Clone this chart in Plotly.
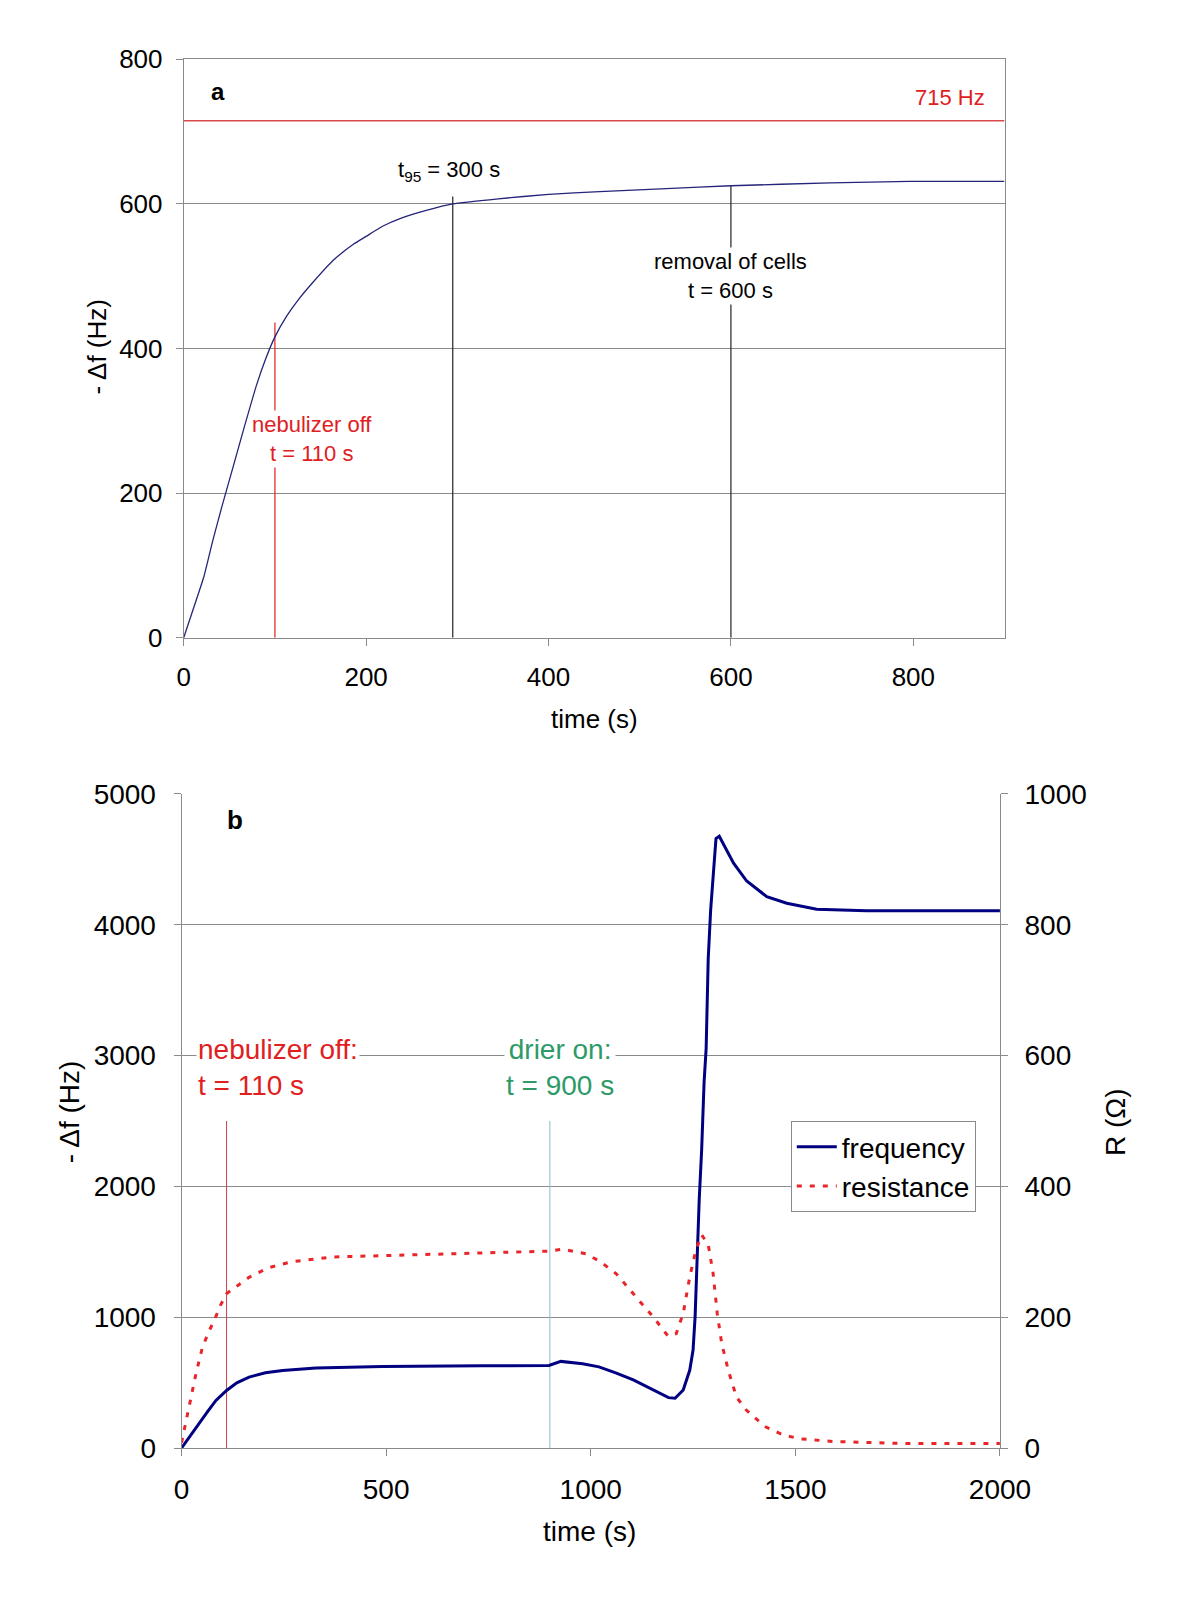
import plotly.graph_objects as go

# ---------------- data: panel a ----------------
top_time = [0, 10, 22, 32, 42, 55, 67, 80, 90, 100, 113, 126, 142, 164, 186, 200, 218, 240, 266, 295, 345, 400, 456, 529, 600, 709, 796, 900]
top_df = [0, 38, 84, 135, 182, 240, 294, 350, 386, 416, 445, 468, 492, 522, 544, 555, 569, 581, 591, 600, 607, 613, 617, 621, 625, 629, 631, 631]
top_ref_level = 715
top_neb_t = 100
top_neb_top = 436
top_t95_t = 295
top_t95_top = 610
top_removal_t = 600
top_removal_top = 625

# ---------------- data: panel b ----------------
freq_time = [0, 20, 43, 64, 84, 110, 135, 165, 205, 247, 328, 491, 735, 898, 927, 980, 1020, 1061, 1104, 1145, 1175, 1190, 1206,
             1226, 1242, 1250, 1255, 1260, 1265, 1271, 1277, 1282, 1287, 1293, 1300, 1306, 1314, 1320, 1328, 1349, 1381,
             1430, 1479, 1552, 1674, 2000]
freq_df = [0, 90, 186, 280, 364, 440, 498, 542, 575, 593, 611, 623, 628, 631, 662, 644, 620, 575, 520, 458, 410, 385, 380,
           443, 596, 749, 1004, 1514, 1896, 2278, 2800, 3055, 3737, 4113, 4420, 4659, 4676, 4640, 4590, 4471, 4334,
           4215, 4164, 4119, 4106, 4106]

res_time = [0, 6, 19, 35, 51, 68, 80, 95, 110, 133, 165, 214, 271, 369, 532, 735, 898, 931, 988, 1023,
            1063, 1120, 1152, 1189, 1209, 1226, 1242, 1257, 1271, 1287, 1299, 1309, 1320, 1336,
            1356, 1380, 1425, 1470, 1511, 1593, 1756, 2000]
res_ohm = [8, 27, 63, 113, 154, 180, 195, 218, 236, 247, 261, 276, 285, 292, 295, 299, 301, 304, 297, 285,
           266, 224, 201, 171, 175, 206, 262, 303, 326, 311, 267, 206, 160, 119,
           78, 58, 33, 20, 14, 10, 7, 7]

bot_neb_t = 110
bot_drier_t = 900
bot_marker_top = 2500

FONT = "Liberation Sans, Arial, sans-serif"
GRID = "#8a8a8a"
RED = "#e0201e"
NAVY = "#000080"

# page offset compensation (body margin of the html page)
DX = 8 / 1200
DY = 8 / 1600

fig = go.Figure()

# panel a traces
fig.add_trace(go.Scatter(x=[0, 900], y=[top_ref_level, top_ref_level], mode="lines",
                         line=dict(color="#d9484a", width=1.5), xaxis="x", yaxis="y", showlegend=False))
fig.add_trace(go.Scatter(x=[top_neb_t, top_neb_t], y=[0, top_neb_top], mode="lines",
                         line=dict(color=RED, width=1.2), xaxis="x", yaxis="y", showlegend=False))
fig.add_trace(go.Scatter(x=[top_t95_t, top_t95_t], y=[0, top_t95_top], mode="lines",
                         line=dict(color="#222222", width=1.2), xaxis="x", yaxis="y", showlegend=False))
fig.add_trace(go.Scatter(x=[top_removal_t, top_removal_t], y=[0, top_removal_top], mode="lines",
                         line=dict(color="#222222", width=1.2), xaxis="x", yaxis="y", showlegend=False))
fig.add_trace(go.Scatter(x=top_time, y=top_df, mode="lines", line=dict(color="#24247a", width=1.3, shape="spline", smoothing=0.5),
                         xaxis="x", yaxis="y", showlegend=False))

# panel b traces
fig.add_trace(go.Scatter(x=[bot_neb_t, bot_neb_t], y=[0, bot_marker_top], mode="lines",
                         line=dict(color="#c84040", width=1), xaxis="x2", yaxis="y2", showlegend=False))
fig.add_trace(go.Scatter(x=[bot_drier_t, bot_drier_t], y=[0, bot_marker_top], mode="lines",
                         line=dict(color="#8fbccb", width=1), xaxis="x2", yaxis="y2", showlegend=False))
fig.add_trace(go.Scatter(x=freq_time, y=freq_df, mode="lines", name="frequency",
                         line=dict(color=NAVY, width=3), xaxis="x2", yaxis="y2"))
fig.add_trace(go.Scatter(x=res_time, y=res_ohm, mode="lines", name="resistance",
                         line=dict(color="#e8262a", width=3, dash="5px,8px"), xaxis="x2", yaxis="y3"))

axis_common = dict(showline=True, linecolor=GRID, linewidth=1, ticks="outside", tickcolor=GRID,
                   ticklen=7, zeroline=False, color="black", automargin=False)

fig.update_layout(
    width=1200, height=1600,
    margin=dict(l=0, r=0, t=0, b=0, autoexpand=False),
    paper_bgcolor="white", plot_bgcolor="white",
    font=dict(family=FONT, color="black"),
    xaxis=dict(domain=[0.1531 - DX, 0.8371 - DX], anchor="y", range=[0, 900], tickvals=[0, 200, 400, 600, 800],
               showgrid=False, mirror=True, tickfont=dict(size=26), ticklabelstandoff=9, **axis_common),
    yaxis=dict(domain=[0.6014 + DY, 0.963 + DY], anchor="x", range=[0, 800], dtick=200,
               showgrid=True, gridcolor=GRID, gridwidth=1, mirror=True, tickfont=dict(size=26),
               ticklabelstandoff=8, **axis_common),
    xaxis2=dict(domain=[0.1513 - DX, 0.8333 - DX], anchor="y2", range=[0, 2000], dtick=500,
                showgrid=False, tickfont=dict(size=28), ticklabelstandoff=9, **axis_common),
    yaxis2=dict(domain=[0.095 + DY, 0.5038 + DY], anchor="x2", range=[0, 5000], dtick=1000,
                showgrid=True, gridcolor=GRID, gridwidth=1, tickfont=dict(size=28),
                ticklabelstandoff=12, **axis_common),
    yaxis3=dict(overlaying="y2", side="right", anchor="x2", range=[0, 1000], dtick=200,
                showgrid=False, tickfont=dict(size=28), ticklabelstandoff=11, **axis_common),
    legend=dict(x=0.659 - DX, y=0.2994 + DY, xanchor="left", yanchor="top", bgcolor="white",
                bordercolor=GRID, borderwidth=1, font=dict(size=28, family=FONT),
                tracegroupgap=0, itemwidth=40),
    showlegend=True,
)

ann = []
# panel a annotations
ann.append(dict(x=38, y=755, xref="x", yref="y", text="<b>a</b>", showarrow=False,
                font=dict(size=24, color="black")))
ann.append(dict(x=881, y=747, xref="x", yref="y", text="715 Hz", showarrow=False, xanchor="right",
                font=dict(size=22, color=RED)))
ann.append(dict(x=291, y=646, xref="x", yref="y", text="t<sub>95</sub> = 300 s", showarrow=False,
                font=dict(size=22, color="black")))
ann.append(dict(x=600, y=500, xref="x", yref="y", text="removal of cells<br>t = 600 s", showarrow=False,
                bgcolor="white", font=dict(size=22, color="black")))
ann.append(dict(x=141, y=275, xref="x", yref="y", text="nebulizer off<br>t = 110 s", showarrow=False,
                bgcolor="white", font=dict(size=22, color=RED)))
# panel b annotations
ann.append(dict(x=130, y=4797, xref="x2", yref="y2", text="<b>b</b>", showarrow=False,
                font=dict(size=26, color="black")))
ann.append(dict(x=35, y=2905, xref="x2", yref="y2", text="nebulizer off:<br>t = 110 s", showarrow=False,
                xanchor="left", align="left", bgcolor="white", font=dict(size=28, color=RED)))
ann.append(dict(x=925, y=2905, xref="x2", yref="y2", text="drier on:<br>t = 900 s", showarrow=False,
                bgcolor="white", font=dict(size=28, color="#2e9a68")))
# axis titles
title_common = dict(xref="paper", yref="paper", showarrow=False, xanchor="center", yanchor="middle")
ann.append(dict(x=0.081 - DX, y=0.783 + DY, text="- Δf (Hz)", textangle=-90, font=dict(size=26), **title_common))
ann.append(dict(x=0.495 - DX, y=0.5504 + DY, text="time (s)", font=dict(size=26), **title_common))
ann.append(dict(x=0.4915 - DX, y=0.0428 + DY, text="time (s)", font=dict(size=28), **title_common))
ann.append(dict(x=0.0578 - DX, y=0.305 + DY, text="- Δf (Hz)", textangle=-90, font=dict(size=28), **title_common))
ann.append(dict(x=0.929 - DX, y=0.2986 + DY, text="R (Ω)", textangle=-90, font=dict(size=28), **title_common))
fig.update_layout(annotations=ann)

fig.write_html("out.html")
